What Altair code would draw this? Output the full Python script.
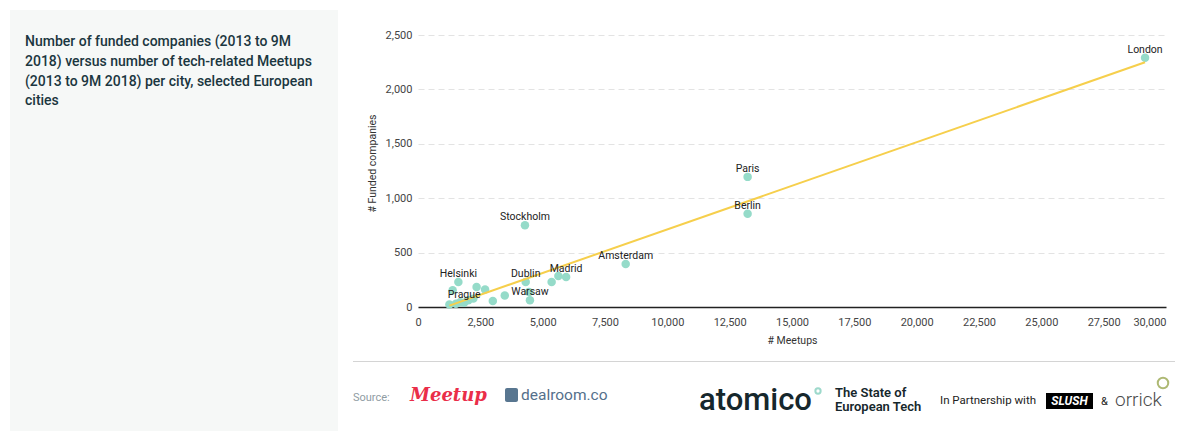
import altair as alt
import pandas as pd

# ---- data ----
cities = ["London", "Paris", "Berlin", "Stockholm", "Amsterdam", "Madrid", "", "",
          "Dublin", "", "Warsaw", "", "", "", "", "Helsinki", "", "", "", "",
          "Prague", "", ""]
meetups = [29160, 13220, 13220, 4290, 8330, 5940, 5630, 5360,
           4320, 4450, 4490, 3480, 3000, 2690, 2350, 1620, 1390, 1260, 1520, 1690,
           1850, 2020, 2220]
funded = [2291, 1196, 856, 752, 396, 276, 285, 230,
          230, 138, 62, 105, 55, 160, 184, 230, 154, 22, 29, 43,
          40, 62, 77]

x_ticks = [0, 2500, 5000, 7500, 10000, 12500, 15000, 17500, 20000, 22500, 25000, 27500, 30000]
y_ticks = [0, 500, 1000, 1500, 2000, 2500]

title_lines = ["Number of funded companies (2013 to 9M",
               "2018) versus number of tech-related Meetups",
               "(2013 to 9M 2018) per city, selected European",
               "cities"]

df = pd.DataFrame({"city": cities, "meetups": meetups, "funded": funded})

FONT = "Roboto"
OX, OY = 418, 35  # page position of plot origin (used for decorations only)

x_enc = alt.X("meetups:Q",
              scale=alt.Scale(domain=[0, 30000], nice=False),
              axis=alt.Axis(values=x_ticks, title="# Meetups", grid=False, ticks=False,
                            domainColor="#222222", domainWidth=1.5,
                            labelFontSize=11, labelColor="#444444", labelPadding=9,
                            labelBaseline="top", labelFlush=False,
                            labelAlign=alt.expr("datum.value >= 30000 ? 'right' : 'center'"),
                            titleFontSize=10.5, titleFontWeight="normal", titleColor="#333333",
                            titleX=374, titleY=33, titleBaseline="middle"))
y_enc = alt.Y("funded:Q",
              scale=alt.Scale(domain=[0, 2500], nice=False),
              axis=alt.Axis(values=y_ticks, title="# Funded companies", domain=False, ticks=False,
                            gridColor="#e3e3e3", gridDash=[6, 4], gridWidth=1,
                            labelFontSize=11, labelColor="#444444", labelPadding=6,
                            titleFontSize=10.5, titleFontWeight="normal", titleColor="#333333",
                            titleAngle=270, titleAlign="center", titleBaseline="middle",
                            titleX=-46, titleY=128))

base = alt.Chart(df)

points = base.mark_circle(size=72, color="#95dbc9", opacity=1).encode(x=x_enc, y=y_enc)

trend = base.transform_regression("meetups", "funded").mark_line(
    color="#f6cf4c", strokeWidth=2).encode(x="meetups:Q", y="funded:Q")

labels = base.transform_filter("datum.city != ''").mark_text(
    font=FONT, fontSize=10.5, color="#222222", baseline="middle", dy=-8
).encode(x="meetups:Q", y="funded:Q", text="city:N")


def one():
    return alt.Chart(alt.Data(values=[{"k": 1}]))


def txt(s, px, py, **kw):
    opts = dict(font=FONT, align="left", baseline="middle")
    opts.update(kw)
    return one().mark_text(text=s, **opts).encode(
        x=alt.value(px - OX), y=alt.value(py - OY))


def box(px1, py1, px2, py2, **kw):
    return one().mark_rect(**kw).encode(
        x=alt.value(px1 - OX), x2=alt.value(px2 - OX),
        y=alt.value(py1 - OY), y2=alt.value(py2 - OY))


def hrule(px1, px2, py, **kw):
    return one().mark_rule(**kw).encode(
        x=alt.value(px1 - OX), x2=alt.value(px2 - OX), y=alt.value(py - OY))


def ring(px, py, **kw):
    return one().mark_point(shape="circle", **kw).encode(
        x=alt.value(px - OX), y=alt.value(py - OY))


panel = box(10, 10, 338, 431, color="#f6f8f7")
title = one().mark_text(text=title_lines, font=FONT, fontSize=14, fontWeight=500,
                        color="#1b3640", align="left", baseline="middle",
                        lineHeight=19.8).encode(x=alt.value(25 - OX), y=alt.value(42 - OY))

footer = [
    hrule(353, 1175, 361.5, color="#d4d4d4", strokeWidth=1),
    txt("Source:", 353, 398, fontSize=11, color="#8f9ca3"),
    txt("Meetup", 410, 396, fontSize=18, font="DejaVu Serif", fontStyle="italic",
        fontWeight="bold", color="#ea2e49"),
    box(505, 388, 518, 402, color="#587690", cornerRadius=2),
    txt("dealroom.co", 521, 395, fontSize=15.5, color="#55708b"),
    txt("atomico", 699, 401, fontSize=31, fontWeight=500, color="#16272c"),
    ring(818, 391, size=28, filled=False, color="#74c9b6", strokeWidth=2),
    txt("The State of", 835, 393, fontSize=13, fontWeight=600, color="#16272c"),
    txt("European Tech", 835, 407, fontSize=13, fontWeight=600, color="#16272c"),
    txt("In Partnership with", 940, 401, fontSize=11.5, color="#222222"),
    box(1046, 393, 1093, 409, color="#000000"),
    txt("SLUSH", 1069.5, 401, align="center", fontSize=12, fontWeight="bold",
        fontStyle="italic", color="#ffffff"),
    txt("&", 1101, 402, fontSize=11, color="#222222"),
    txt("orrick", 1115, 400, fontSize=19, fontWeight=300, color="#4a4a4a"),
    ring(1163, 383, size=110, filled=False, color="#8d9c3a", strokeWidth=2),
]

chart = alt.layer(panel, title, points, trend, labels, *footer).properties(
    width=748, height=272,
    padding={"left": 2, "top": 2, "right": 0, "bottom": 0},
    background="#ffffff",
).configure(font=FONT).configure_view(stroke=None)

chart.save("out.html", embed_options={"renderer": "svg", "actions": False})
